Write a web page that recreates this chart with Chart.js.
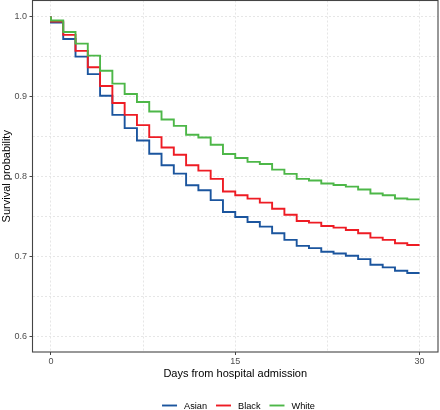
<!DOCTYPE html>
<html>
<head>
<meta charset="utf-8">
<script src="https://cdn.jsdelivr.net/npm/chart.js@4/dist/chart.umd.min.js"></script>
<style>
  html, body { margin: 0; padding: 0; background: #ffffff; }
  #wrap { width: 440px; height: 410px; }
</style>
</head>
<body>
<div id="wrap"><canvas id="c" width="440" height="410"></canvas></div>
<script>
// ---- data ----
const groups = ["Asian", "Black", "White"];
const colors = ["#1B559E", "#EE1C24", "#4DB748"];
// survival probability over each day interval [d, d+1), d = 0..29
const asian = [0.9925, 0.9718, 0.9498, 0.9278, 0.9008, 0.8768, 0.8602, 0.8448, 0.8282, 0.8137,
               0.8033, 0.7888, 0.7825, 0.7701, 0.7552, 0.7490, 0.7427, 0.7370, 0.7286, 0.7203,
               0.7129, 0.7100, 0.7054, 0.7033, 0.7004, 0.6963, 0.6892, 0.6859, 0.6817, 0.6788];
const black = [0.9938, 0.9770, 0.9570, 0.9365, 0.9130, 0.8917, 0.8768, 0.8640, 0.8490, 0.8360,
               0.8270, 0.8137, 0.8070, 0.7967, 0.7810, 0.7763, 0.7720, 0.7670, 0.7593, 0.7519,
               0.7440, 0.7420, 0.7378, 0.7357, 0.7328, 0.7286, 0.7232, 0.7203, 0.7162, 0.7140];
const white = [0.9950, 0.9805, 0.9660, 0.9510, 0.9320, 0.9160, 0.9030, 0.8930, 0.8810, 0.8710,
               0.8630, 0.8520, 0.8485, 0.8394, 0.8278, 0.8228, 0.8180, 0.8154, 0.8083, 0.8030,
               0.7967, 0.7946, 0.7910, 0.7890, 0.7870, 0.7834, 0.7784, 0.7763, 0.7722, 0.7710];
const startValue = 1.0;
const lastDay = 30;
const xTickValues = [0, 7.5, 15, 22.5, 30];
const xTickLabels = ["0", "", "15", "", "30"];
const yTickValues = [0.6, 0.65, 0.7, 0.75, 0.8, 0.85, 0.9, 0.95, 1.0];
const yTickLabels = ["0.6", "", "0.7", "", "0.8", "", "0.9", "", "1.0"];
const xTitle = "Days from hospital admission";
const yTitle = "Survival probability";

// ---- build step data ----
function stepPoints(vals) {
  const pts = [{x: 0, y: startValue}];
  vals.forEach((v, d) => pts.push({x: d, y: v}));
  pts.push({x: lastDay, y: vals[vals.length - 1]});
  return pts;
}
const seriesVals = [asian, black, white];

const FONT = "'Liberation Sans', Arial, Helvetica, sans-serif";
const gridCol = "#e6e6e6";

const panelAndLegend = {
  id: "panelAndLegend",
  afterDraw(chart) {
    const ctx = chart.ctx;
    const a = chart.chartArea;
    ctx.save();
    ctx.strokeStyle = "#444444";
    ctx.lineWidth = 1.1;
    ctx.setLineDash([]);
    ctx.strokeRect(a.left, a.top, a.right - a.left, a.bottom - a.top);
    // legend
    ctx.font = "9.2px " + FONT;
    ctx.textBaseline = "middle";
    ctx.textAlign = "left";
    const keyLen = 15, gap = 7, spacing = 9;
    const widths = groups.map(g => ctx.measureText(g).width);
    let total = 0;
    widths.forEach((w, i) => { total += keyLen + gap + w + (i < groups.length - 1 ? spacing : 0); });
    let x = 238.5 - total / 2;
    const y = 405.5;
    groups.forEach((g, i) => {
      ctx.strokeStyle = colors[i];
      ctx.lineWidth = 1.9;
      ctx.beginPath();
      ctx.moveTo(x, y);
      ctx.lineTo(x + keyLen, y);
      ctx.stroke();
      ctx.fillStyle = "#000000";
      ctx.fillText(g, x + keyLen + gap, y + 0.5);
      x += keyLen + gap + widths[i] + spacing;
    });
    ctx.restore();
  }
};

new Chart(document.getElementById("c"), {
  type: "line",
  data: {
    datasets: groups.map((g, i) => ({
      label: g,
      data: stepPoints(seriesVals[i]),
      borderColor: colors[i],
      backgroundColor: colors[i],
      borderWidth: 1.9,
      pointRadius: 0,
      fill: false,
      stepped: "before",
      order: groups.length - i
    }))
  },
  options: {
    responsive: false,
    devicePixelRatio: 1,
    animation: false,
    parsing: true,
    layout: { padding: { left: 0, right: 2, top: 0.5, bottom: 22 } },
    plugins: {
      legend: { display: false },
      tooltip: { enabled: false },
      title: { display: false }
    },
    scales: {
      x: {
        type: "linear",
        min: -1.5,
        max: 31.5,
        afterBuildTicks: (s) => { s.ticks = xTickValues.map(v => ({ value: v })); },
        afterFit: (s) => { s.height = 36; s.paddingLeft = 0; s.paddingRight = 0; },
        ticks: {
          autoSkip: false,
          maxRotation: 0,
          padding: 1,
          color: "#4d4d4d",
          font: { family: FONT, size: 9 },
          callback: (v, i) => xTickLabels[i]
        },
        grid: {
          color: gridCol,
          lineWidth: 1,
          drawTicks: true,
          tickLength: 3,
          tickWidth: 1,
          tickBorderDash: [],
          tickColor: (c) => (c.tick && xTickLabels[c.index] !== "" ? "#444444" : "rgba(0,0,0,0)")
        },
        border: { display: false, dash: [2, 2] },
        title: {
          display: true,
          text: xTitle,
          color: "#000000",
          font: { family: FONT, size: 11 },
          padding: { top: 0, bottom: 7.4 }
        }
      },
      y: {
        type: "linear",
        min: 0.58,
        max: 1.02,
        afterBuildTicks: (s) => { s.ticks = yTickValues.map(v => ({ value: v })); },
        afterFit: (s) => { s.width = 32.5; s.paddingTop = 0; s.paddingBottom = 0; },
        ticks: {
          autoSkip: false,
          padding: 2.5,
          color: "#4d4d4d",
          font: { family: FONT, size: 9 },
          callback: (v, i) => yTickLabels[i]
        },
        grid: {
          color: gridCol,
          lineWidth: 1,
          drawTicks: true,
          tickLength: 3,
          tickWidth: 1,
          tickBorderDash: [],
          tickColor: (c) => (c.tick && yTickLabels[c.index] !== "" ? "#444444" : "rgba(0,0,0,0)")
        },
        border: { display: false, dash: [2, 2] },
        title: {
          display: true,
          text: yTitle,
          color: "#000000",
          font: { family: FONT, size: 11 },
          padding: { top: 0, bottom: 0 }
        }
      }
    }
  },
  plugins: [panelAndLegend]
});
</script>
</body>
</html>
